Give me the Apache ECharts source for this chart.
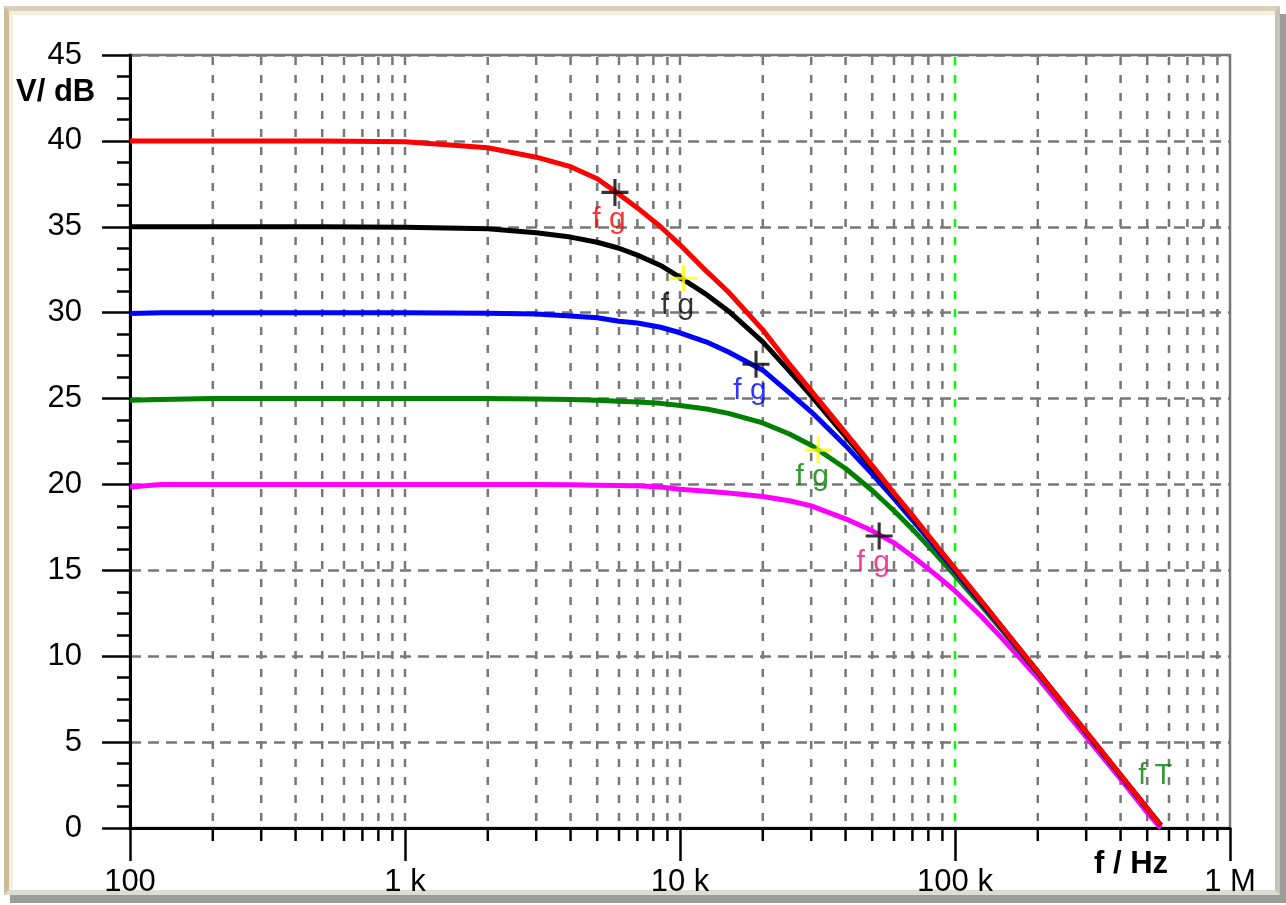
<!DOCTYPE html>
<html>
<head>
<meta charset="utf-8">
<title>V/dB over f</title>
<script src="https://cdn.jsdelivr.net/npm/echarts@6/dist/echarts.min.js"></script>
<style>
  html, body { margin: 0; padding: 0; background: #fff; }
  .frame {
    position: absolute; left: 4px; top: 6px; width: 1266px; height: 879px;
    border-top: 5px solid #d8d0bc; border-left: 5px solid #cbbd97;
    border-right: 5px solid #c4c4be; border-bottom: 5px solid #dcdcd8;
    box-shadow: inset 4px 4px 0 #f6efdc, 6px 8px 0 #9c9c98;
  }
  #chart { position: absolute; left: 0; top: 0; width: 1286px; height: 905px; }
</style>
</head>
<body>
<div class="frame"></div>
<div id="chart"></div>
<script>
// frequencies (Hz) and the five gain curves in dB
var freqs = [100, 130, 200, 500, 1000, 2000, 3000, 4000, 5000, 6000, 7000, 8500, 10000, 12500, 15000, 20000, 25000, 30000, 40000, 50000, 60000, 70000, 85000, 100000, 125000, 150000, 200000, 250000, 300000, 400000, 500000, 560000];
var gain40 = [40.0, 40.0, 40.0, 40.0, 39.95, 39.6, 39.05, 38.5, 37.8, 36.9, 36.1, 35.0, 33.95, 32.4, 31.2, 29.0, 27.0, 25.45, 23.0, 21.1, 19.5, 18.2, 16.5, 15.1, 13.2, 11.6, 9.1, 7.15, 5.6, 3.1, 1.15, 0.15];
var gain35 = [35.0, 35.0, 35.0, 35.0, 34.97, 34.88, 34.65, 34.4, 34.1, 33.75, 33.35, 32.75, 32.05, 31.05, 30.1, 28.3, 26.6, 25.15, 22.8, 20.97, 19.44, 18.13, 16.47, 15.07, 13.15, 11.58, 9.1, 7.15, 5.58, 3.08, 1.14, 0.16];
var gain30 = [29.95, 30.0, 30.0, 30.0, 30.0, 29.97, 29.92, 29.8, 29.7, 29.5, 29.4, 29.15, 28.83, 28.29, 27.71, 26.65, 25.33, 24.23, 22.26, 20.6, 19.17, 17.93, 16.33, 14.97, 13.08, 11.52, 9.05, 7.13, 5.55, 3.05, 1.12, 0.14];
var gain25 = [24.9, 24.95, 25.0, 25.0, 25.0, 25.0, 24.98, 24.95, 24.9, 24.85, 24.8, 24.72, 24.6, 24.39, 24.14, 23.58, 22.94, 22.28, 20.93, 19.65, 18.47, 17.4, 15.96, 14.7, 12.92, 11.41, 9.0, 7.1, 5.54, 3.06, 1.13, 0.15];
var gain20 = [19.85, 20.0, 20.0, 20.0, 20.0, 20.0, 20.0, 19.98, 19.96, 19.94, 19.92, 19.85, 19.72, 19.6, 19.5, 19.3, 19.05, 18.75, 18.0, 17.3, 16.6, 15.82, 14.75, 13.8, 12.3, 10.95, 8.75, 6.85, 5.3, 2.85, 0.9, 0.0];

// corner frequency markers (fg) and the transit frequency label (fT)
var fgFreq = [5800, 10300, 18900, 31800, 53000];
var fgLevel = [37, 32, 27, 22, 17];
var fTPoint = [500000, 3];

// axis ticks
var xTickLabels = { 100: '100', 1000: '1 k', 10000: '10 k', 100000: '100 k', 1000000: '1 M' };
var gridFreqs = [200, 300, 400, 500, 600, 700, 800, 900, 1000,
  2000, 3000, 4000, 5000, 6000, 7000, 8000, 9000, 10000,
  20000, 30000, 40000, 50000, 60000, 70000, 80000, 90000, 100000,
  200000, 300000, 400000, 500000, 600000, 700000, 800000, 900000];

var font = '"Liberation Sans", Arial, sans-serif';
var curveColors = ['#ff00ff', '#008000', '#0000ff', '#000000', '#ff0000'];
var curves = [gain20, gain25, gain30, gain35, gain40];
var crossColors = ['#000000', '#ffff00', '#000000', '#ffff00', '#000000'];
var fgColors = ['#ff0000', '#000000', '#0000ff', '#008000', '#f01080'];

function pairs(ys) {
  return freqs.map(function (f, i) { return [f, ys[i]]; });
}

var series = [{
  type: 'custom',
  z: 1,
  silent: true,
  data: gridFreqs.map(function (f) { return [f, 0]; }),
  encode: { x: 0, y: 1 },
  renderItem: function (params, api) {
    var f = api.value(0);
    var top = api.coord([f, 45]);
    var bot = api.coord([f, 0]);
    var lg = Math.log10(f);
    var decade = Math.abs(lg - Math.round(lg)) < 1e-9;
    var kids = [{
      type: 'line',
      shape: { x1: top[0], y1: top[1] + 2, x2: bot[0], y2: bot[1] },
      style: { stroke: f === 100000 ? '#00ff00' : '#777777', lineWidth: 2.5, lineDash: [8, 10] }
    }];
    if (!decade) {
      kids.push({
        type: 'line',
        shape: { x1: bot[0], y1: bot[1], x2: bot[0], y2: bot[1] + 13 },
        style: { stroke: '#000', lineWidth: 2.5 }
      });
    }
    return { type: 'group', children: kids };
  }
}];

curves.forEach(function (ys, i) {
  series.push({
    type: 'line',
    z: 3 + i,
    data: pairs(ys),
    showSymbol: false,
    silent: true,
    lineStyle: { color: curveColors[i], width: 5 }
  });
});

series.push({
  type: 'scatter',
  z: 10,
  silent: true,
  symbol: 'path://M0,11.5H26V14.5H0Z M11.5,0H14.5V26H11.5Z',
  symbolSize: 27,
  data: fgFreq.map(function (f, i) {
    return {
      value: [f, fgLevel[i]],
      itemStyle: { color: crossColors[4 - i] },
      label: { color: fgColors[i] }
    };
  }),
  label: {
    show: true,
    position: 'inside',
    offset: [-6, 27],
    formatter: 'f g',
    fontFamily: font,
    fontSize: 30
  }
});

series.push({
  type: 'scatter',
  z: 10,
  silent: true,
  symbolSize: 0,
  data: [fTPoint],
  label: {
    show: true,
    position: 'inside',
    offset: [8, 0],
    formatter: 'f T',
    color: '#008000',
    fontFamily: font,
    fontSize: 29
  }
});

var chart = echarts.init(document.getElementById('chart'));
chart.setOption({
  animation: false,
  backgroundColor: 'transparent',
  grid: {
    left: 130, top: 55, right: 56, bottom: 77,
    show: true, borderColor: '#777777', borderWidth: 2.5, backgroundColor: 'transparent'
  },
  xAxis: {
    type: 'log',
    logBase: 10,
    min: 100,
    max: 1000000,
    axisLine: { lineStyle: { color: '#000', width: 3 } },
    axisTick: { length: 33, lineStyle: { color: '#000', width: 2.5 } },
    axisLabel: {
      margin: 39,
      color: '#000',
      fontFamily: font,
      fontSize: 31,
      formatter: function (v) { return xTickLabels[Math.round(v)] || ''; }
    },
    splitLine: { show: false }
  },
  yAxis: {
    type: 'value',
    min: 0,
    max: 45,
    interval: 5,
    axisLine: { show: true, lineStyle: { color: '#000', width: 3 } },
    axisTick: { show: true, length: 28, lineStyle: { color: '#000', width: 2.5 } },
    minorTick: { show: true, splitNumber: 4, length: 13, lineStyle: { color: '#000', width: 2.5 } },
    axisLabel: { margin: 48, color: '#000', fontFamily: font, fontSize: 31 },
    splitLine: { show: true, lineStyle: { color: '#777777', width: 2.5, type: [11, 7] } }
  },
  graphic: [
    { type: 'text', left: 16, top: 77, style: { text: 'V/ dB', font: 'bold 31px ' + font, fill: '#000' } },
    { type: 'text', left: 1094, top: 849, style: { text: 'f / Hz', font: 'bold 31px ' + font, fill: '#000' } }
  ],
  series: series
});
</script>
</body>
</html>
